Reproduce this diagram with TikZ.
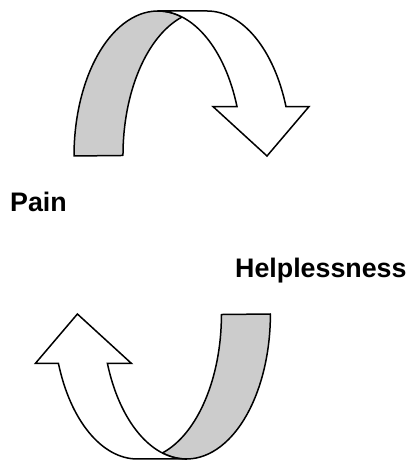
\documentclass[tikz,border=0pt]{standalone}
\usepackage{fontspec}
\setmainfont{Liberation Sans}
\usepackage{xcolor}
\usepackage{tikz}

\definecolor{ribbongray}{gray}{0.8}

% one curved ribbon arrow, origin at the centre of its back arc
\newcommand{\ribbonarrow}{%
    \path[ribbon back]
        (-84,0) arc[start angle=180, end angle=73.4, x radius=84pt, y radius=145pt]
        arc[start angle=107.3, end angle=180, x radius=84pt, y radius=145pt] -- cycle;
    \path[ribbon front]
        (0,145) -- (49,145)
        arc[start angle=90, end angle=19.9, x radius=84pt, y radius=145pt]
        -- (151,49.4) -- (109,0) -- (55,49.4) -- (79,49.4)
        arc[start angle=19.9, end angle=90, x radius=84pt, y radius=145pt] -- cycle;
}

\begin{document}
\begin{tikzpicture}[x=1pt,y=1pt,
    ribbon back/.style={draw=black, fill=ribbongray, line width=1.5pt, line join=round},
    ribbon front/.style={draw=black, fill=white, line width=1.5pt, line join=miter},
    label text/.style={anchor=base west, inner sep=0pt, font=\fontsize{26.8}{32}\selectfont\bfseries}]

\useasboundingbox (0,0) rectangle (411,462);

% --------------------------------------------------
% Top arrow
% --------------------------------------------------
\begin{scope}[shift={(158,306)}]
    \ribbonarrow
\end{scope}

% --------------------------------------------------
% Labels
% --------------------------------------------------
\node[label text] (pain) at (10,250) {Pain};
\node[label text] (help) at (235,184.7) {Helplessness};

% --------------------------------------------------
% Bottom arrow (same shape, turned round)
% --------------------------------------------------
\begin{scope}[shift={(186.4,148)},rotate=180]
    \ribbonarrow
\end{scope}

\end{tikzpicture}
\end{document}
